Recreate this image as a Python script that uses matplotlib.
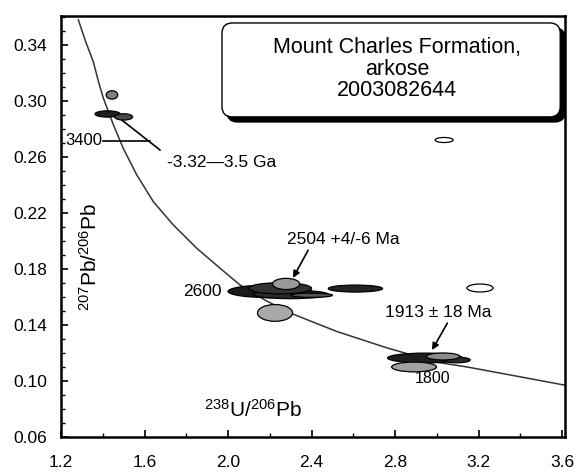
import matplotlib
matplotlib.use("Agg")
import matplotlib.pyplot as plt
from matplotlib.patches import Ellipse, FancyBboxPatch
from matplotlib.ticker import MultipleLocator, FormatStrFormatter

plt.rcParams['font.family'] = ['Liberation Sans', 'DejaVu Sans']
plt.rcParams['mathtext.default'] = 'regular'

# concordia curve, points picked along the line (238U/206Pb, 207Pb/206Pb)
conc_x = [1.283, 1.318, 1.355, 1.379, 1.403, 1.451, 1.498, 1.563, 1.642, 1.738, 1.850,
          1.962, 2.057, 2.180, 2.297, 2.520, 2.762, 3.000, 3.145, 3.380, 3.610]
conc_y = [0.3579, 0.3424, 0.3279, 0.3140, 0.3019, 0.2829, 0.2662, 0.2471, 0.2281, 0.2114, 0.1948,
          0.1805, 0.1686, 0.1575, 0.1486, 0.1354, 0.1236, 0.1134, 0.1100, 0.1035, 0.0971]

# error ellipses: centre, full width, full height, fill
ell_x = [1.444, 1.423, 1.500, 3.035, 3.207,
         2.200, 2.300, 2.250, 2.278, 2.610, 2.400, 2.225,
         2.944, 2.891, 3.095, 3.030]
ell_y = [0.3043, 0.2907, 0.2886, 0.2721, 0.1664,
         0.1640, 0.1618, 0.1662, 0.1693, 0.1660, 0.1612, 0.1486,
         0.1164, 0.1100, 0.1150, 0.1175]
ell_w = [0.055, 0.120, 0.086, 0.086, 0.125,
         0.400, 0.360, 0.300, 0.130, 0.260, 0.200, 0.168,
         0.360, 0.215, 0.130, 0.160]
ell_h = [0.0060, 0.0045, 0.0045, 0.0036, 0.0057,
         0.0090, 0.0060, 0.0080, 0.0080, 0.0050, 0.0030, 0.0120,
         0.0070, 0.0070, 0.0040, 0.0050]
ell_fc = ['#808080', '#1e1e1e', '#4a4a4a', 'white', 'white',
          '#1a1a1a', '#2a2a2a', '#333333', '#9a9a9a', '#222222', '#555555', '#a8a8a8',
          '#1e1e1e', '#a0a0a0', '#2a2a2a', '#8c8c8c']

yticks = [0.06, 0.10, 0.14, 0.18, 0.22, 0.26, 0.30, 0.34]

fig = plt.figure(figsize=(5.81, 4.72), dpi=100)
ax = fig.add_axes([0.105, 0.0742, 0.8675, 0.892])

ax.plot(conc_x, conc_y, color='#333333', lw=1.1, zorder=2)

for x, y, w, h, fc in zip(ell_x, ell_y, ell_w, ell_h, ell_fc):
    ax.add_patch(Ellipse((x, y), w, h, facecolor=fc, edgecolor='black',
                         lw=0.9, zorder=3))

# age marks on the curve
ax.text(1.219, 0.2721, '3400', fontsize=12, va='center', ha='left')
ax.plot([1.401, 1.626], [0.2714, 0.2714], color='black', lw=1.2)
ax.text(1.784, 0.1636, '2600', fontsize=12.5, va='center', ha='left', zorder=4)
ax.text(2.896, 0.1021, '1800', fontsize=11.5, va='center', ha='left')

# discordant trend from the oldest grains
ax.plot([1.491, 1.674], [0.2864, 0.2650], color='black', lw=1.2)
ax.text(1.708, 0.2557, '-3.32\u20143.5 Ga', fontsize=12.5, va='center', ha='left')

# population ages
ax.annotate('2504 +4/-6 Ma', xy=(2.311, 0.1736), xytext=(2.283, 0.2007),
            fontsize=12.5, va='center', ha='left',
            arrowprops=dict(arrowstyle='-|>', color='black', lw=1.2,
                            mutation_scale=10, shrinkA=0, shrinkB=0,
                            relpos=(0.2, 0.0)))
ax.annotate('1913 \u00b1 18 Ma', xy=(2.977, 0.1221), xytext=(2.752, 0.1486),
            fontsize=12.5, va='center', ha='left',
            arrowprops=dict(arrowstyle='-|>', color='black', lw=1.2,
                            mutation_scale=10, shrinkA=0, shrinkB=0,
                            relpos=(0.6, 0.0)))

# sample title box with drop shadow
asp = 0.149
shadow = FancyBboxPatch((1.995, 0.2850), 1.62, 0.0671,
                        boxstyle='round,pad=0,rounding_size=0.05',
                        mutation_aspect=asp, facecolor='black',
                        edgecolor='black', lw=1, zorder=5)
box = FancyBboxPatch((1.971, 0.2886), 1.62, 0.0671,
                     boxstyle='round,pad=0,rounding_size=0.05',
                     mutation_aspect=asp, facecolor='white',
                     edgecolor='black', lw=1.0, zorder=6)
ax.add_patch(shadow)
ax.add_patch(box)
ax.text(2.81, 0.3228, 'Mount Charles Formation,\narkose\n2003082644',
        fontsize=15.5, ha='center', va='center', linespacing=1.05, zorder=7)

# axis titles sit inside the frame
ax.text(2.12, 0.0793, r'$^{238}$U/$^{206}$Pb', fontsize=15, ha='center', va='center')
ax.text(1.339, 0.1886, r'$^{207}$Pb/$^{206}$Pb', fontsize=15, ha='center',
        va='center', rotation=90)

ax.set_xlim(1.2, 3.614)
ax.set_ylim(0.06, 0.3607)
ax.xaxis.set_major_locator(MultipleLocator(0.4))
ax.xaxis.set_minor_locator(MultipleLocator(0.2))
ax.set_yticks(yticks)
ax.yaxis.set_minor_locator(MultipleLocator(0.01))
ax.xaxis.set_major_formatter(FormatStrFormatter('%.1f'))
ax.yaxis.set_major_formatter(FormatStrFormatter('%.2f'))
ax.tick_params(which='both', direction='in', top=False, right=False,
               labelsize=12.5)
ax.tick_params(axis='x', which='major', length=5, width=1.2, pad=13)
ax.tick_params(axis='y', which='major', length=5, width=1.2, pad=10)
ax.tick_params(which='minor', length=3, width=1)
for s in ax.spines.values():
    s.set_linewidth(1.8)

fig.savefig('out.png', dpi=100)
